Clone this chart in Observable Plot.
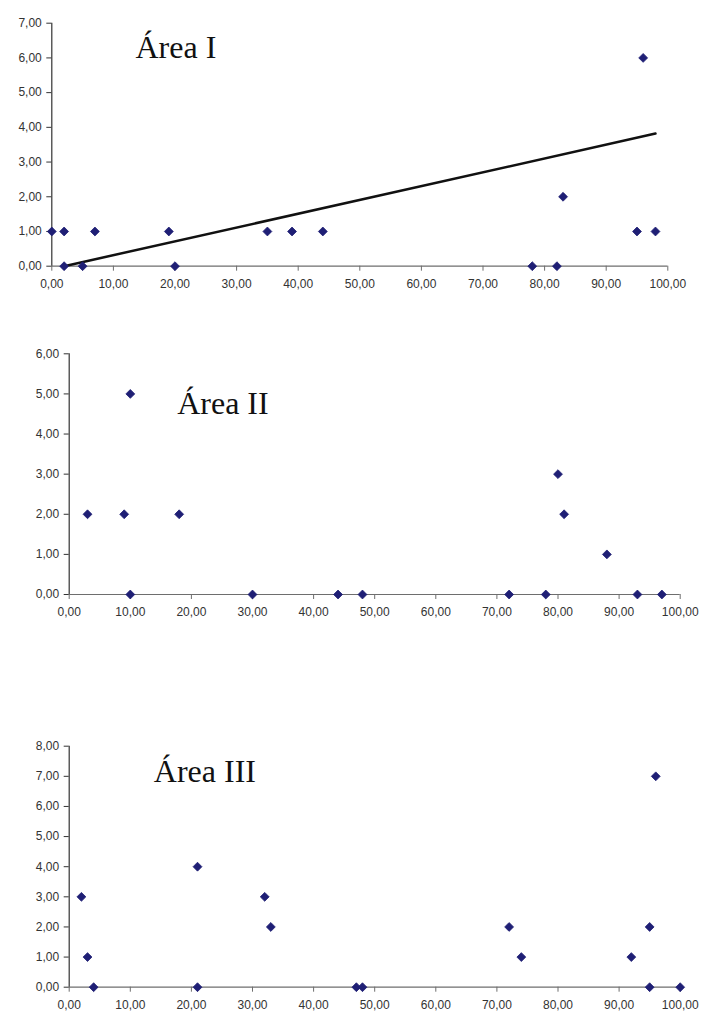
<!DOCTYPE html>
<html>
<head>
<meta charset="utf-8">
<script src="https://cdn.jsdelivr.net/npm/d3@7"></script>
<script src="https://cdn.jsdelivr.net/npm/@observablehq/plot@0.6"></script>
<style>
  html, body { margin: 0; padding: 0; background: #fff; }
  #wrap { position: relative; width: 703px; height: 1015px; }
  .panel { position: absolute; left: 0; }
</style>
</head>
<body>
<div id="wrap">
  <div class="panel" id="p1" style="top:0px"></div>
  <div class="panel" id="p2" style="top:340px"></div>
  <div class="panel" id="p3" style="top:730px"></div>
</div>
<script>
// ---- Data ----
const xTicks = [0, 10, 20, 30, 40, 50, 60, 70, 80, 90, 100];

// Área I
const area1Title = "Área I";
const area1X = [0, 2, 2, 5, 7, 19, 20, 35, 39, 44, 78, 82, 83, 95, 96, 98];
const area1Y = [1, 1, 0, 0, 1, 1, 0, 1, 1, 1, 0, 0, 2, 1, 6, 1];
const area1YTicks = [0, 1, 2, 3, 4, 5, 6, 7];
const area1TrendX = [2, 98];
const area1TrendY = [0, 3.82];

// Área II
const area2Title = "Área II";
const area2X = [3, 9, 10, 10, 18, 30, 44, 48, 72, 78, 80, 81, 88, 93, 97];
const area2Y = [2, 2, 5, 0, 2, 0, 0, 0, 0, 0, 3, 2, 1, 0, 0];
const area2YTicks = [0, 1, 2, 3, 4, 5, 6];

// Área III
const area3Title = "Área III";
const area3X = [2, 3, 4, 21, 21, 32, 33, 47, 48, 72, 74, 92, 95, 95, 96, 100];
const area3Y = [3, 1, 0, 4, 0, 3, 2, 0, 0, 2, 1, 1, 2, 0, 7, 0];
const area3YTicks = [0, 1, 2, 3, 4, 5, 6, 7, 8];

// ---- Rendering ----
const fmt = v => d3.format(".2f")(v).replace(".", ",");
const markerColor = "#1f1f75";
const axisColor = "#6e6e6e";
const labelColor = "#333333";

function panel(el, opts) {
  const pts = opts.xs.map((x, i) => ({x, y: opts.ys[i]}));
  const marks = [
    Plot.ruleY([0], {stroke: axisColor, strokeWidth: 1.2}),
    Plot.ruleX([0], {stroke: "#333", strokeWidth: 1.2}),
    Plot.axisX({ticks: xTicks, tickFormat: fmt, tickSize: 5, tickPadding: 8, stroke: axisColor, label: null,
                fontSize: 12, fill: labelColor, fontFamily: "Liberation Sans, Arial, sans-serif"}),
    Plot.axisY({ticks: opts.yTicks, tickFormat: fmt, tickSize: 5, tickPadding: 5, stroke: "#333", label: null,
                fontSize: 12, fill: labelColor, fontFamily: "Liberation Sans, Arial, sans-serif"}),
  ];
  if (opts.trendX) {
    const tr = opts.trendX.map((x, i) => ({x, y: opts.trendY[i]}));
    marks.push(Plot.line(tr, {x: "x", y: "y", stroke: "#111", strokeWidth: 2.5}));
  }
  marks.push(Plot.dot(pts, {x: "x", y: "y", symbol: "diamond2", r: 4, fill: markerColor, stroke: markerColor, strokeWidth: 0.8}));
  marks.push(Plot.text([opts.title], {
    frameAnchor: "top-left", text: d => d, textAnchor: "start", lineAnchor: "bottom",
    dx: opts.tdx, dy: opts.tdy, fontSize: 32, fontFamily: "Liberation Serif, Times New Roman, serif", fill: "#111"
  }));
  const chart = Plot.plot({
    width: 703,
    height: opts.height,
    marginLeft: opts.ml, marginRight: opts.mr, marginTop: opts.mt, marginBottom: opts.mb,
    x: {domain: [0, 100], label: null},
    y: {domain: [0, opts.ymax], label: null},
    style: {background: "transparent", overflow: "visible"},
    marks
  });
  document.getElementById(el).appendChild(chart);
}

panel("p1", {xs: area1X, ys: area1Y, yTicks: area1YTicks, ymax: 7, title: area1Title,
  trendX: area1TrendX, trendY: area1TrendY,
  height: 300, ml: 51.3, mr: 35.7, mt: 22.7, mb: 34.3, tdx: 83.7, tdy: 34.6});
panel("p2", {xs: area2X, ys: area2Y, yTicks: area2YTicks, ymax: 6, title: area2Title,
  height: 280, ml: 68.7, mr: 23.3, mt: 13.3, mb: 26, tdx: 108, tdy: 60});
panel("p3", {xs: area3X, ys: area3Y, yTicks: area3YTicks, ymax: 8, title: area3Title,
  height: 285, ml: 68.7, mr: 23.3, mt: 15.7, mb: 28.3, tdx: 84.6, tdy: 35.3});
</script>
</body>
</html>
